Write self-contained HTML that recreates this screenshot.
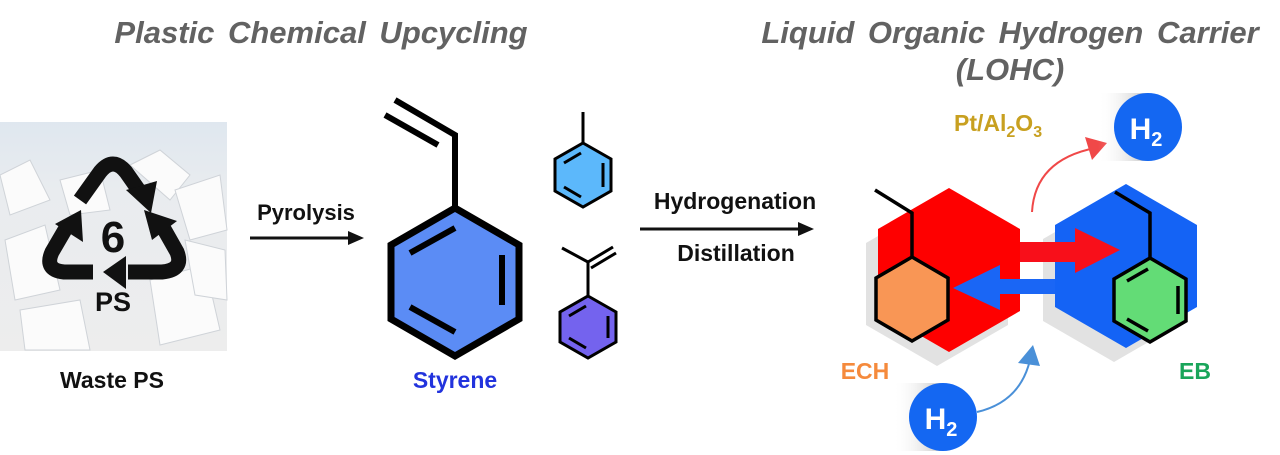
<!DOCTYPE html>
<html><head><meta charset="utf-8"><style>
html,body{margin:0;padding:0;background:#fff;}
svg{display:block;}
text{font-family:"Liberation Sans",Arial,sans-serif;font-weight:bold;}
</style></head><body>
<svg width="1280" height="455" viewBox="0 0 1280 455" xmlns="http://www.w3.org/2000/svg">
<defs>
<linearGradient id="bg" x1="0" y1="0" x2="0" y2="1">
<stop offset="0" stop-color="#dfe7ef"/><stop offset="0.3" stop-color="#e9ecef"/><stop offset="1" stop-color="#ededed"/></linearGradient>
<linearGradient id="sh" x1="0" y1="0" x2="1" y2="0">
<stop offset="0" stop-color="#fff" stop-opacity="0"/><stop offset="1" stop-color="#999"/></linearGradient>
</defs>
<text x="321" y="43" font-size="31" font-style="italic" fill="#626262" text-anchor="middle" word-spacing="5">Plastic Chemical Upcycling</text>
<text x="1010" y="43" font-size="31" font-style="italic" fill="#626262" text-anchor="middle" word-spacing="5">Liquid Organic Hydrogen Carrier</text>
<text x="1010" y="80" font-size="31" font-style="italic" fill="#626262" text-anchor="middle">(LOHC)</text>

<rect x="0" y="122" width="227" height="229" fill="url(#bg)"/>
<g fill="#fbfbfb" stroke="#cfd3d8" stroke-width="1">
<polygon points="0,175 30,160 50,200 10,215"/><polygon points="130,165 160,150 190,175 170,200"/>
<polygon points="175,190 220,175 227,230 190,240"/><polygon points="5,240 45,225 60,290 15,300"/>
<polygon points="150,280 205,265 220,330 160,345"/><polygon points="20,310 80,300 90,350 25,350"/>
<polygon points="60,180 100,170 110,210 70,215"/><polygon points="185,240 225,250 227,300 195,295"/>
</g>
<g fill="none" stroke="#111" stroke-width="15" stroke-linecap="butt">
<path d="M80,200 L100,172 Q113,156 126,172 L140,192"/>
<path d="M160,222 L177,252 Q184,270 162,272 L128,272"/>
<path d="M93,272 L64,272 Q44,270 52,252 L66,228"/>
</g>
<g fill="#111">
<polygon points="126,190 157,181 151,213"/>
<polygon points="144,210 177,221 152,240"/>
<polygon points="126,256 126,289 103,272"/>
<polygon points="55,224 81,210 83,242"/>
</g>
<text x="113" y="252" font-size="44" fill="#111" text-anchor="middle">6</text>
<text x="113" y="311" font-size="27" fill="#111" text-anchor="middle">PS</text>
<text x="112" y="388" font-size="23" fill="#111" text-anchor="middle">Waste PS</text>

<text x="306" y="220" font-size="22" fill="#111" text-anchor="middle">Pyrolysis</text>
<line x1="250" y1="238" x2="350" y2="238" stroke="#111" stroke-width="3"/>
<polygon points="364,238 348,231 348,245" fill="#111"/>

<polygon points="455,208 519,245 519,319 455,356 391,319 391,245" fill="#5b8cf5" stroke="#000" stroke-width="7" stroke-linejoin="miter"/>
<g stroke="#000" stroke-width="6">
<line x1="410" y1="253" x2="455" y2="228"/><line x1="502" y1="255" x2="502" y2="305"/><line x1="410" y1="307" x2="455" y2="332"/>
<polyline points="455,208 455,135 395,100" fill="none"/>
<line x1="385" y1="115" x2="438" y2="145"/>
</g>
<text x="455" y="388" font-size="23" fill="#2233dd" text-anchor="middle">Styrene</text>

<polygon points="583,143 611,159 611,191 583,207 555,191 555,159" fill="#5cb8fb" stroke="#000" stroke-width="3"/>
<g stroke="#000" stroke-width="3">
<line x1="583" y1="143" x2="583" y2="112"/>
<line x1="564" y1="163" x2="581" y2="153"/><line x1="603" y1="163" x2="603" y2="187"/><line x1="564" y1="187" x2="581" y2="197"/>
</g>
<polygon points="588,296 616,312 616,342 588,358 560,342 560,312" fill="#7463ee" stroke="#000" stroke-width="3"/>
<g stroke="#000" stroke-width="3">
<polyline points="588,296 588,262 562,248" fill="none"/><line x1="588" y1="262" x2="613" y2="247"/><line x1="591" y1="268" x2="616" y2="253"/>
<line x1="569" y1="316" x2="586" y2="306"/><line x1="608" y1="316" x2="608" y2="338"/><line x1="569" y1="338" x2="586" y2="348"/>
</g>

<text x="735" y="209" font-size="23" fill="#111" text-anchor="middle">Hydrogenation</text>
<text x="736" y="261" font-size="23" fill="#111" text-anchor="middle">Distillation</text>
<line x1="640" y1="229" x2="800" y2="229" stroke="#111" stroke-width="3"/>
<polygon points="814,229 798,222 798,236" fill="#111"/>

<polygon points="937,202 1008,243 1008,325 937,366 866,325 866,243" fill="#e2e2e2"/>
<polygon points="1114,198 1185,239 1185,321 1114,362 1043,321 1043,239" fill="#e2e2e2"/>
<polygon points="949,188 1020,229 1020,311 949,352 878,311 878,229" fill="#fe0000"/>
<polygon points="1126,184 1197,225 1197,307 1126,348 1055,307 1055,225" fill="#1463f5"/>
<polygon points="1020,242 1075,242 1075,228 1120,250 1075,273 1075,262 1020,262" fill="#f80f1a"/>
<polygon points="1055,279 1000,279 1000,265 953,288 1000,310 1000,294 1055,294" fill="#1a66f5"/>
<polygon points="912,257 948,278 948,320 912,341 876,320 876,278" fill="#f99655" stroke="#000" stroke-width="3.5"/>
<polyline points="912,257 912,213 875,190" fill="none" stroke="#000" stroke-width="3.5"/>
<polygon points="1150,258 1186,279 1186,321 1150,342 1114,321 1114,279" fill="#63dc76" stroke="#000" stroke-width="3.5"/>
<g stroke="#000" stroke-width="3.5">
<polyline points="1150,258 1150,213 1115,192" fill="none"/>
<line x1="1127" y1="281" x2="1148" y2="269"/><line x1="1178" y1="286" x2="1178" y2="314"/><line x1="1127" y1="319" x2="1148" y2="331"/>
</g>
<text x="865" y="379" font-size="23" fill="#f58a3c" text-anchor="middle">ECH</text>
<text x="1195" y="379" font-size="23" fill="#19a55a" text-anchor="middle">EB</text>
<text x="954" y="131" font-size="23" fill="#c8a020">Pt/Al<tspan font-size="16" dy="6">2</tspan><tspan dy="-6">O</tspan><tspan font-size="16" dy="6">3</tspan></text>
<path d="M1032,212 Q1035,160 1095,148" fill="none" stroke="#f04848" stroke-width="2"/>
<polygon points="1107,143 1085,137 1092,160" fill="#f04848"/>
<path d="M977,412 Q1020,402 1030,360" fill="none" stroke="#4a90d8" stroke-width="2"/>
<polygon points="1033,345 1018,363 1040,366" fill="#4a90d8"/>
<rect x="1098" y="93" width="50" height="68" fill="url(#sh)" opacity="0.6"/>
<circle cx="1148" cy="127" r="34" fill="#1467f2"/>
<text x="1146" y="139" font-size="30" fill="#fff" text-anchor="middle" font-weight="normal">H<tspan font-size="20" dy="7">2</tspan></text>
<rect x="893" y="383" width="50" height="68" fill="url(#sh)" opacity="0.6"/>
<circle cx="943" cy="417" r="34" fill="#1467f2"/>
<text x="941" y="429" font-size="30" fill="#fff" text-anchor="middle" font-weight="normal">H<tspan font-size="20" dy="7">2</tspan></text>
</svg>
</body></html>
